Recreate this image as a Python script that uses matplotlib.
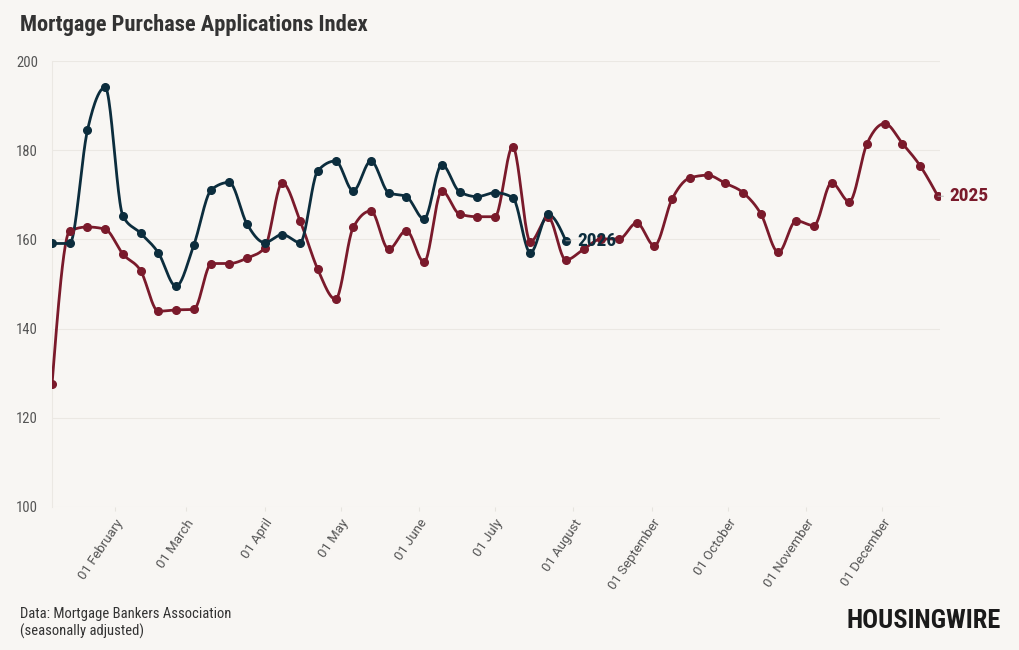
from datetime import datetime, timedelta

import numpy as np
from matplotlib import pyplot as plt
from matplotlib import dates as mdates
from matplotlib import font_manager

# weekly index readings, both years drawn on the same calendar axis
start = datetime(2025, 1, 7)
values_2025 = [127.5, 161.9, 162.8, 162.3, 156.7, 153.0, 143.9, 144.2, 144.3, 154.6,
               154.6, 155.8, 158.1, 172.7, 164.2, 153.3, 146.6, 162.7, 166.4, 157.8,
               162.0, 154.9, 170.9, 165.7, 165.1, 165.1, 180.8, 159.5, 165.0, 155.4,
               157.8, 160.1, 160.1, 163.7, 158.6, 169.1, 173.8, 174.4, 172.6, 170.5,
               165.8, 157.1, 164.2, 163.1, 172.7, 168.5, 181.5, 186.0, 181.5, 176.5,
               169.7]
values_2026 = [159.1, 159.1, 184.5, 194.1, 165.3, 161.4, 157.0, 149.5, 158.7, 171.2,
               172.8, 163.5, 159.3, 161.1, 159.3, 175.4, 177.6, 170.9, 177.6, 170.5,
               169.6, 164.6, 176.8, 170.7, 169.6, 170.5, 169.4, 157.0, 165.6, 159.7]
series = [('2025', values_2025, '#7a1a2b'), ('2026', values_2026, '#0c2d3d')]
y_ticks = [100, 120, 140, 160, 180, 200]

installed = {f.name for f in font_manager.fontManager.ttflist}
cond = 'Roboto Condensed' if 'Roboto Condensed' in installed else 'Roboto'
plt.rcParams['font.family'] = [cond, 'DejaVu Sans']

bg = '#f8f6f3'


def monotone_x(x, y, n=24):
    # same shape as d3.curveMonotoneX
    x = np.asarray(x, float)
    y = np.asarray(y, float)
    h = np.diff(x)
    s = np.diff(y) / h
    t = np.zeros_like(y)
    for i in range(1, len(y) - 1):
        p = (s[i - 1] * h[i] + s[i] * h[i - 1]) / (h[i - 1] + h[i])
        t[i] = (np.sign(s[i - 1]) + np.sign(s[i])) * min(abs(s[i - 1]), abs(s[i]), 0.5 * abs(p))
    t[0] = (3 * s[0] - t[1]) / 2
    t[-1] = (3 * s[-1] - t[-2]) / 2
    xs, ys = [], []
    for i in range(len(h)):
        u = np.linspace(0, 1, n, endpoint=False)
        h00 = 2 * u**3 - 3 * u**2 + 1
        h10 = u**3 - 2 * u**2 + u
        h01 = -2 * u**3 + 3 * u**2
        h11 = u**3 - u**2
        xs.append(x[i] + u * h[i])
        ys.append(h00 * y[i] + h10 * h[i] * t[i] + h01 * y[i + 1] + h11 * h[i] * t[i + 1])
    xs.append([x[-1]])
    ys.append([y[-1]])
    return np.concatenate(xs), np.concatenate(ys)


fig = plt.figure(figsize=(10.2, 6.5), dpi=100, facecolor=bg)
ax = fig.add_axes([0.051, 0.22, 0.871, 0.686], facecolor=bg)

for name, vals, col in series:
    d = [start + timedelta(days=7 * i) for i in range(len(vals))]
    xn = mdates.date2num(d)
    sx, sy = monotone_x(xn, vals)
    ax.plot(sx, sy, color=col, lw=2.0, solid_capstyle='round', zorder=3)
    ax.plot(xn, vals, 'o', color=col, ms=5.5, zorder=4)
    ax.annotate(name, xy=(xn[-1], vals[-1]), xytext=(8, 0), textcoords='offset points',
                ha='left', va='center', fontsize=14, fontweight='bold', color=col,
                zorder=6, annotation_clip=False,
                arrowprops=dict(arrowstyle='-', color='#aaaaaa', lw=0.6,
                                shrinkA=2, shrinkB=4))

ax.set_ylim(100, 200)
ax.set_yticks(y_ticks)
ax.set_xlim(mdates.date2num(start), mdates.date2num(start + timedelta(days=351)))
ax.xaxis.set_major_locator(mdates.MonthLocator(bymonth=range(2, 13)))
ax.xaxis.set_major_formatter(mdates.DateFormatter('%d %B'))
for lab in ax.get_xticklabels():
    lab.set_rotation(56)
    lab.set_ha('right')
    lab.set_rotation_mode('anchor')
    lab.set_family(['Roboto', 'DejaVu Sans'])
ax.tick_params(axis='x', labelsize=9.5, labelcolor='#555555', length=3, color='#e6e4df', pad=4)
ax.tick_params(axis='y', labelsize=10.5, labelcolor='#555555', length=0, pad=10)
ax.grid(axis='y', color='#ebe8e3', lw=0.8)
for k in ['top', 'right', 'bottom']:
    ax.spines[k].set_visible(False)
ax.spines['left'].set_color('#ebe8e3')

fig.text(0.0196, 0.962, 'Mortgage Purchase Applications Index', fontsize=16.2,
         fontweight='bold', color='#333333', va='center')
fig.text(0.0196, 0.017, 'Data: Mortgage Bankers Association\n(seasonally adjusted)',
         fontsize=10.5, color='#333333', va='bottom', linespacing=1.25)
fig.text(0.981, 0.045, 'HOUSINGWIRE', fontsize=19, fontweight='heavy', color='#1a1a1a',
         ha='right', va='center')

fig.savefig('out.png', dpi=100, facecolor=bg)
